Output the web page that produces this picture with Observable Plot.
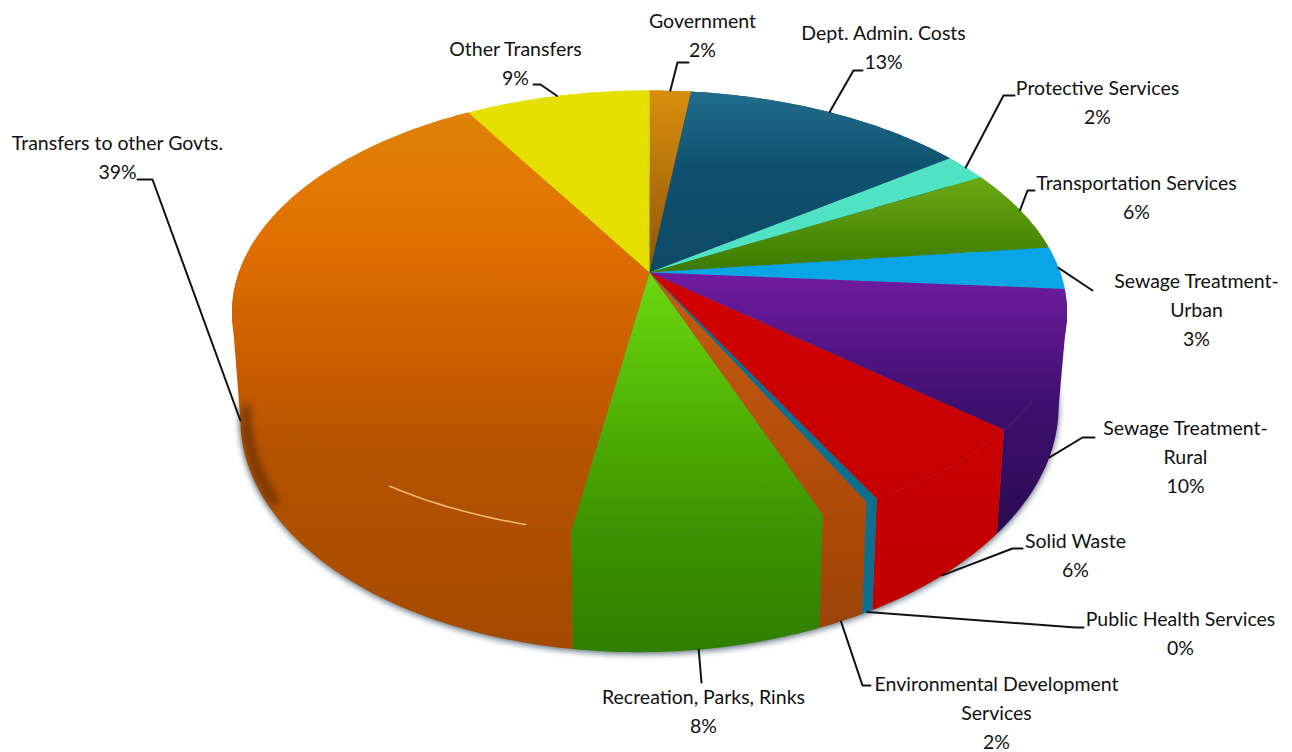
<!DOCTYPE html>
<html>
<head>
<meta charset="utf-8">
<style>html,body{margin:0;padding:0;background:#fff}svg{display:block}</style>
<script src="https://cdn.jsdelivr.net/npm/d3@7"></script>
<script src="https://cdn.jsdelivr.net/npm/@observablehq/plot@0.6"></script>
</head>
<body>
<div id="chart"></div>
<script>
// ---- data (clockwise from 12 o'clock) ----
const categories = ["Government","Dept. Admin. Costs","Protective Services","Transportation Services",
  "Sewage Treatment-\nUrban","Sewage Treatment-\nRural","Solid Waste","Public Health Services",
  "Environmental Development\nServices","Recreation, Parks, Rinks","Transfers to other Govts.","Other Transfers"];
const shares = [1.9,13.1,2.0,6.1,3.1,10,6.1,0.4,1.6,8.2,39,8.5];

// ---- styling: [y position, colour] stops per slice ----
const sliceStops = [
  [[90,"#D88E0E"],[270,"#8F5605"]],
  [[95,"#206C8A"],[170,"#104F6E"],[270,"#0C4A66"]],
  [[160,"#4FE3C4"],[270,"#4FE3C4"]],
  [[180,"#68A814"],[270,"#3C7A00"]],
  [[250,"#0AA5E6"],[290,"#0AA5E6"]],
  [[280,"#6E1B9E"],[400,"#3F1070"],[540,"#2A0A50"]],
  [[300,"#D00000"],[600,"#C00000"]],
  [[280,"#0D6E8E"],[610,"#0D6E8E"]],
  [[300,"#C05A10"],[500,"#B04A08"],[620,"#9C4408"]],
  [[280,"#6BD60F"],[450,"#4AA802"],[530,"#3D9200"],[650,"#2F7F00"]],
  [[110,"#DE8208"],[200,"#E27600"],[250,"#DE6E00"],[380,"#C65A00"],[424,"#BE5800"],[428,"#B85400"],[640,"#A44A00"]],
  [[90,"#E6E000"],[270,"#E6E000"]]
];

// ---- label layout: centre x, top of first line, leader elbow, leader end, leader starts on lower rim ----
const labelLayout = [
  {cx:702,top:7,  elbow:[677,62],  end:[688,62],  low:false},
  {cx:883,top:19, elbow:[853,70],  end:[862,70],  low:false},
  {cx:1097,top:74,elbow:[1003,95], end:[1014,95], low:false},
  {cx:1136,top:169,elbow:[1027,190],end:[1034,190],low:false},
  {cx:1196,top:267,elbow:[1092,290],end:[1092,290],low:false},
  {cx:1185,top:414,elbow:[1082,437],end:[1094,437],low:true},
  {cx:1075,top:527,elbow:[1012,548],end:[1022,548],low:true},
  {cx:1180,top:605,elbow:[1075,627],end:[1083,627],low:true},
  {cx:996,top:670, elbow:[862,685], end:[870,685], low:true},
  {cx:703,top:683, elbow:[701,682], end:[701,682], low:true},
  {cx:117,top:129, elbow:[152,179], end:[137,179], low:true},
  {cx:515,top:35,  elbow:[540,84],  end:[533,84],  low:false}
];

// ---- pie projection (perspective view of a circle) ----
const cx = 649, apexY = 272, kx = 410.7, ky = 165.8, persp = -0.18;
const project = (frac, r = 1) => {
  const t = 2 * Math.PI * frac, u = r * Math.sin(t), v = -r * Math.cos(t), d = 1 + persp * v;
  return [cx + kx * u / d, (apexY + ky * v) / d];
};
const lower = ([x, y]) => [cx + (x - cx) * 0.98, 1.08 * y + 75 - (x - cx) * 0.015];

const cum = d3.cumsum(shares).map(d => d / 100);
const slices = shares.map((s, i) => ({i, name: categories[i], start: i ? cum[i-1] : 0, end: cum[i], mid: ((i ? cum[i-1] : 0) + cum[i]) / 2}));
const arc = (a, b) => {
  const n = Math.max(2, Math.ceil((b - a) * 400));
  return d3.range(n + 1).map(j => project(a + (b - a) * j / n));
};
const toPts = a => a.map(([x, y]) => ({x, y}));

const topFace = s => toPts([[cx, apexY], ...arc(s.start, s.end)]);
const sideFace = s => { const a = arc(s.start, s.end); return toPts([...a, ...a.slice().reverse().map(lower)]); };
// vertical wall between the two rims at the left and right tangents of the ellipse
const wall = (f0, f1) => toPts([project(f0), lower(project(f0)), lower(project(f1)), project(f1)]);

const fullRim = arc(0, 1);
const sideOrder = slices.slice().sort((a, b) => Math.cos(2 * Math.PI * b.mid) - Math.cos(2 * Math.PI * a.mid));
// dark band just inside the left edge of the pie's wall
const leftEdge = toPts(arc(0.665, 0.725).map(lower).map(([x, y]) => [x + 6, y - 4]));

const polygon = (pts, opts) => Plot.line(pts, {x: "x", y: "y", stroke: "none", ...opts});

const labels = slices.map(s => {
  const l = labelLayout[s.i];
  return {x: l.cx, y: l.top, text: `${s.name}\n${Math.round(shares[s.i])}%`};
});
const leaderMarks = slices.map(s => {
  const l = labelLayout[s.i];
  const rim = project(s.mid);
  const start = l.low ? lower(rim) : rim;
  return Plot.line(toPts([start, l.elbow, l.end]), {x: "x", y: "y", stroke: "#111", strokeWidth: 2});
});

const plot = Plot.plot({
  width: 1292, height: 752, margin: 0,
  x: {domain: [0, 1292], range: [0, 1292], axis: null},
  y: {domain: [0, 752], range: [0, 752], axis: null},
  style: {background: "#fff"},
  marks: [
    // soft shadow round the rim
    polygon(toPts(fullRim.map(lower).map(([x, y]) => [x, y + 2])), {fill: "#5f6f80", imageFilter: "blur(3px)"}),
    ...sideOrder.map(s => polygon(sideFace(s), {fill: `url(#slice${s.i})`})),
    polygon(wall(0.721, 0.66), {fill: "url(#slice10)"}),
    polygon(wall(0.279, 0.34), {fill: "url(#slice5)"}),
    ...slices.map(s => polygon(topFace(s), {fill: `url(#slice${s.i})`})),
    Plot.line(leftEdge, {x: "x", y: "y", stroke: "#2a1200", strokeWidth: 8, strokeOpacity: 0.55, imageFilter: "blur(4px)"}),
    // highlight on the rim
    Plot.line(toPts(arc(0.54, 0.59)), {x: "x", y: "y", stroke: "#F2B878", strokeWidth: 1.6, imageFilter: "blur(0.5px)"}),
    ...leaderMarks,
    Plot.text(labels, {x: "x", y: "y", text: "text", lineAnchor: "top", textAnchor: "middle",
      fontFamily: "Lato", fontSize: 19.5, lineHeight: 1.487, fill: "#111"})
  ]
});

// gradient definitions used by the slices
const defs = d3.create("svg:defs");
sliceStops.forEach((stops, i) => {
  const g = defs.append("linearGradient").attr("id", `slice${i}`)
    .attr("gradientUnits", "userSpaceOnUse").attr("x1", 0).attr("x2", 0).attr("y1", 0).attr("y2", 752);
  stops.forEach(([y, c]) => g.append("stop").attr("offset", y / 752).attr("stop-color", c));
});
plot.insertBefore(defs.node(), plot.firstChild);

document.getElementById("chart").appendChild(plot);
</script>
</body>
</html>
